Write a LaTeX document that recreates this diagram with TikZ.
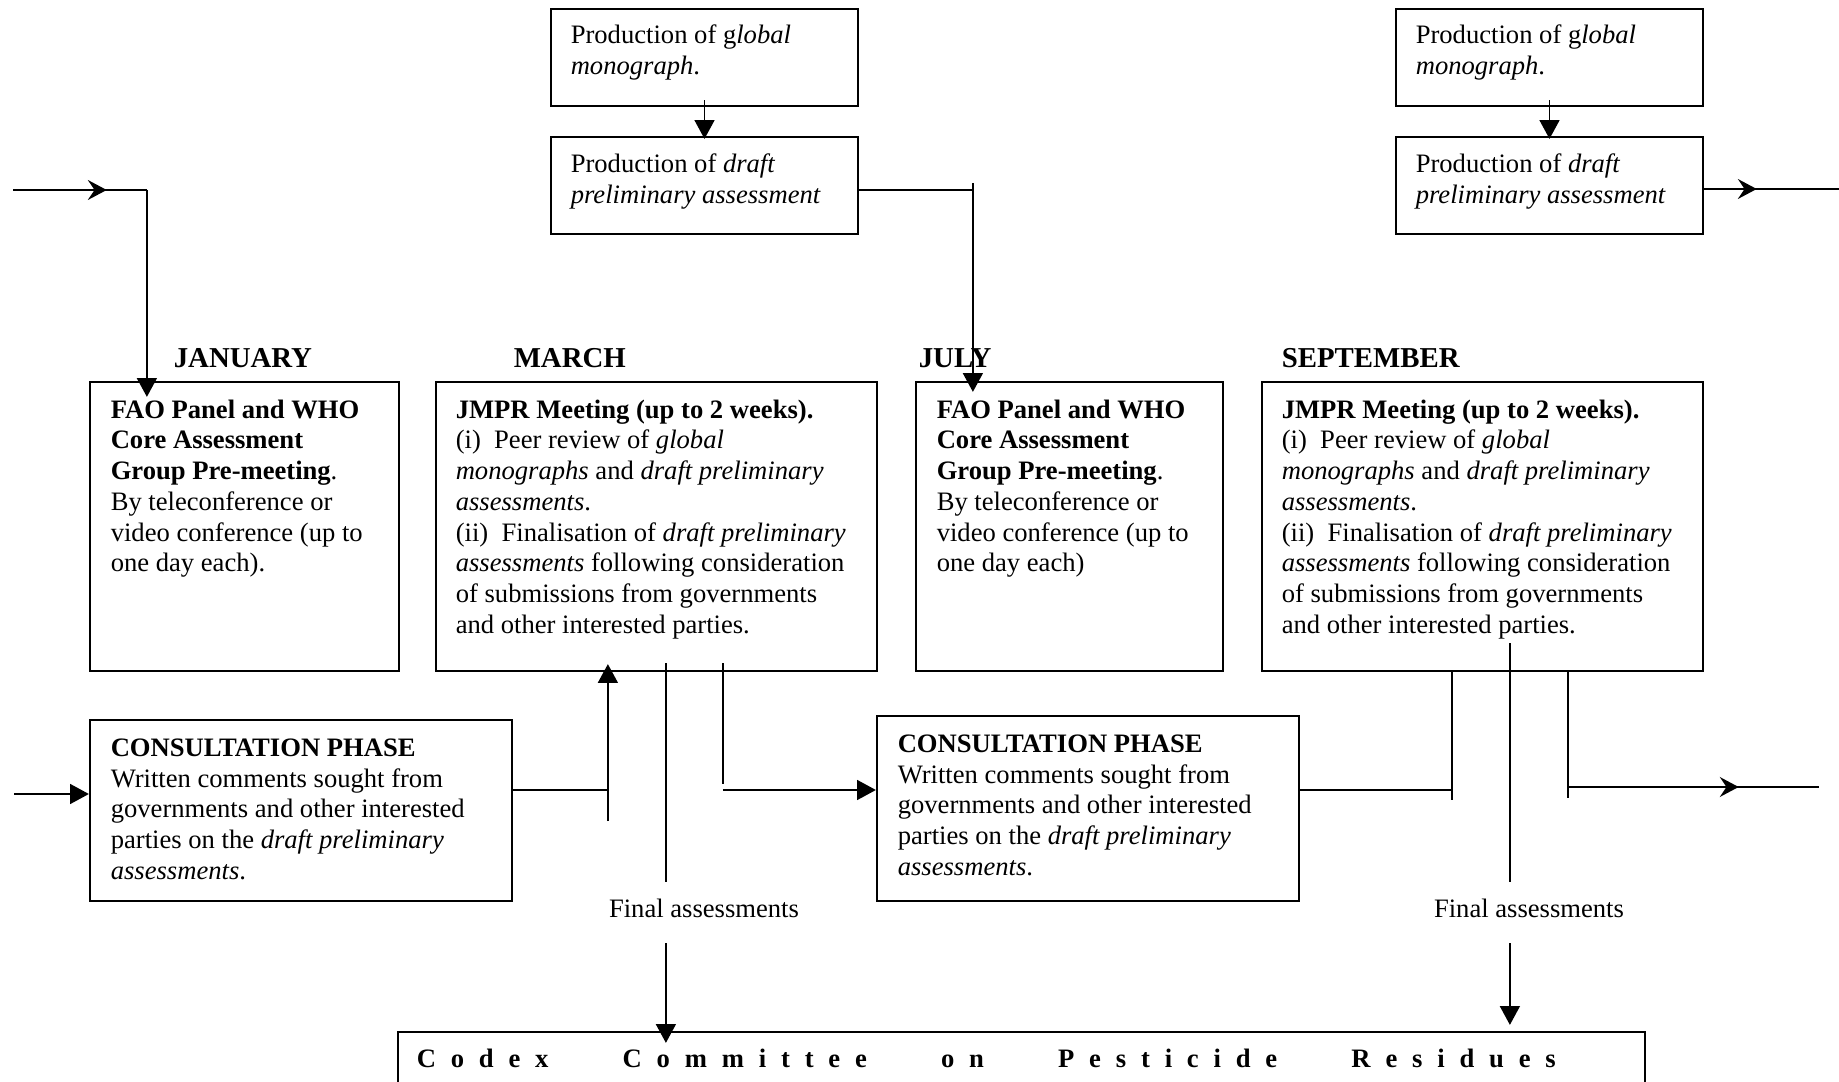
\documentclass[tikz,border=0pt]{standalone}
\usepackage{fontspec}
\setmainfont{Liberation Serif}
\usetikzlibrary{arrows.meta,calc,fit,decorations.markings}

\newcommand\lsp{\hfil}
\newcommand\wsp{\hfil\hfil\hfil\hfil\hfil}

\begin{document}
\begin{tikzpicture}[x=0.451pt,y=-0.451pt,line width=0.8pt,
    box/.style={draw,line width=1pt,inner sep=0pt},
    txt/.style={anchor=north west,align=left,inner sep=0pt,font=\fontsize{12}{13.85}\selectfont},
    month/.style={anchor=base west,inner sep=0pt,font=\fontsize{13}{15}\selectfont\bfseries},
    final/.style={anchor=base,inner xsep=0pt,inner ysep=6.5pt,text height=9pt,text depth=5pt,font=\fontsize{12}{13.85}\selectfont},
    tip/.style={-{Triangle[length=8.5pt,width=9pt]}},
    midarrow/.style={postaction={decorate},decoration={markings,mark=at position #1 with {\arrow{Stealth[length=8.5pt,width=9pt,inset=3pt]}}}}]
  \useasboundingbox (0,0) rectangle (1839,1082);
  \clip (0,0) rectangle (1839,1082);

  \node[box,fit={(551,9) (858,106)}] (glob1) {};
  \node[box,fit={(551,137) (858,234)}] (draft1) {};
  \node[box,fit={(1396,9) (1703,106)}] (glob2) {};
  \node[box,fit={(1396,137) (1703,234)}] (draft2) {};
  \node[box,fit={(90,382) (399,671)}] (jan) {};
  \node[box,fit={(436,382) (877,671)}] (mar) {};
  \node[box,fit={(916,382) (1223,671)}] (jul) {};
  \node[box,fit={(1262,382) (1703,671)}] (sep) {};
  \node[box,fit={(90,720) (512,901)}] (con1) {};
  \node[box,fit={(877,716) (1299,901)}] (con2) {};
  \node[box,fit={(398,1032) (1645,1110)}] (codex) {};

  \node[txt] (glob1t) at ($(glob1.north west)+(20,16)$) {Production of g\textit{lobal}\\\textit{monograph}.};
  \node[txt] (draft1t) at ($(draft1.north west)+(20,17)$) {Production of \textit{draft}\\\textit{preliminary assessment}};
  \node[txt] (glob2t) at ($(glob2.north west)+(20,16)$) {Production of g\textit{lobal}\\\textit{monograph}.};
  \node[txt] (draft2t) at ($(draft2.north west)+(20,17)$) {Production of \textit{draft}\\\textit{preliminary assessment}};

  \node[month] (mjan) at ($(jan.north west)+(84,-13)$) {JANUARY};
  \node[month] (mmar) at ($(mar.north west)+(78,-13)$) {MARCH};
  \node[month] (mjul) at ($(jul.north west)+(3,-13)$) {JULY};
  \node[month] (msep) at ($(sep.north west)+(20,-13)$) {SEPTEMBER};

  \node[txt] (jant) at ($(jan.north west)+(21,18)$) {\textbf{FAO Panel and WHO}\\\textbf{Core Assessment}\\\textbf{Group Pre-meeting}.\\By teleconference or\\video conference (up to\\one day each).};
  \node[txt] (mart) at ($(mar.north west)+(20,18)$) {\textbf{JMPR Meeting (up to 2 weeks).}\\(i)\ \ Peer review of \textit{global}\\\textit{monographs} and \textit{draft preliminary}\\\textit{assessments}.\\(ii)\ \ Finalisation of \textit{draft preliminary}\\\textit{assessments} following consideration\\of submissions from governments\\and other interested parties.};
  \node[txt] (jult) at ($(jul.north west)+(21,18)$) {\textbf{FAO Panel and WHO}\\\textbf{Core Assessment}\\\textbf{Group Pre-meeting}.\\By teleconference or\\video conference (up to\\one day each)};
  \node[txt] (sept) at ($(sep.north west)+(20,18)$) {\textbf{JMPR Meeting (up to 2 weeks).}\\(i)\ \ Peer review of \textit{global}\\\textit{monographs} and \textit{draft preliminary}\\\textit{assessments}.\\(ii)\ \ Finalisation of \textit{draft preliminary}\\\textit{assessments} following consideration\\of submissions from governments\\and other interested parties.};
  \node[txt] (con1t) at ($(con1.north west)+(21,19)$) {\textbf{CONSULTATION PHASE}\\Written comments sought from\\governments and other interested\\parties on the \textit{draft preliminary}\\\textit{assessments}.};
  \node[txt] (con2t) at ($(con2.north west)+(21,19)$) {\textbf{CONSULTATION PHASE}\\Written comments sought from\\governments and other interested\\parties on the \textit{draft preliminary}\\\textit{assessments}.};
  \node[txt,anchor=base west] (codext) at ($(codex.north west)+(19,37)$) {\bfseries\hbox to 513.7pt{C\lsp o\lsp d\lsp e\lsp x\wsp C\lsp o\lsp m\lsp m\lsp i\lsp t\lsp t\lsp e\lsp e\wsp o\lsp n\wsp P\lsp e\lsp s\lsp t\lsp i\lsp c\lsp i\lsp d\lsp e\wsp R\lsp e\lsp s\lsp i\lsp d\lsp u\lsp e\lsp s}};

  \node[final] (fin1) at (704,917) {Final assessments};
  \node[final] (fin2) at (1529,917) {Final assessments};

  \coordinate (in1) at (13,190);
  \coordinate (in2) at (14,794);
  \coordinate (out1) at (1839,189);
  \coordinate (out2) at (1819,787);
  \coordinate (low) at (0,790);
  \coordinate (j0) at ($(jan.north west)+(58,0)$);
  \coordinate (j1) at ($(jul.north west)+(58,0)$);
  \coordinate (m1) at ($(mar.south west)+(173,0)$);
  \coordinate (m2) at ($(mar.south west)+(231,0)$);
  \coordinate (m3) at ($(mar.south west)+(288,0)$);
  \coordinate (s1) at ($(sep.south west)+(191,0)$);
  \coordinate (s2) at ($(sep.south west)+(249,0)$);
  \coordinate (s3) at ($(sep.south west)+(307,0)$);

  \draw[midarrow=0.7] (in1) -- (in1 -| j0);
  \draw[tip] (in1 -| j0) -- ($(j0)+(0,16)$);
  \draw[tip] ($(glob1.south)+(0,-7)$) -- ($(draft1.north)+(0,3)$);
  \draw[tip] ($(glob2.south)+(0,-7)$) -- ($(draft2.north)+(0,3)$);
  \draw (draft1.east |- in1) -- (j1 |- in1);
  \draw[tip] ($(j1 |- in1)+(0,-7)$) -- ($(j1)+(0,11)$);
  \draw[midarrow=0.39] (draft2.east |- out1) -- (out1);

  \draw[tip] (in2) -- (in2 -| con1.west);
  \draw (con1.east |- low) -- (m1 |- low);
  \draw[tip] ($(m1)+(0,149)$) -- ($(m1)+(0,-8)$);
  \draw ($(m2)+(0,-9)$) -- (m2 |- fin1.north);
  \draw[tip] (m2 |- fin1.south) -- ($(m2 |- codex.north)+(0,12)$);
  \draw ($(m3)+(0,-9)$) -- ($(m3)+(0,112)$);
  \draw[tip] (m3 |- low) -- (con2.west |- low);
  \draw (con2.east |- low) -- (s1 |- low);
  \draw (s1) -- ($(s1)+(0,128)$);
  \draw ($(s2)+(0,-29)$) -- (s2 |- fin2.north);
  \draw[tip] (s2 |- fin2.south) -- ($(s2 |- codex.north)+(0,-6)$);
  \draw (s3) -- ($(s3)+(0,126)$);
  \draw[midarrow=0.68] (s3 |- out2) -- (out2);
\end{tikzpicture}
\end{document}
